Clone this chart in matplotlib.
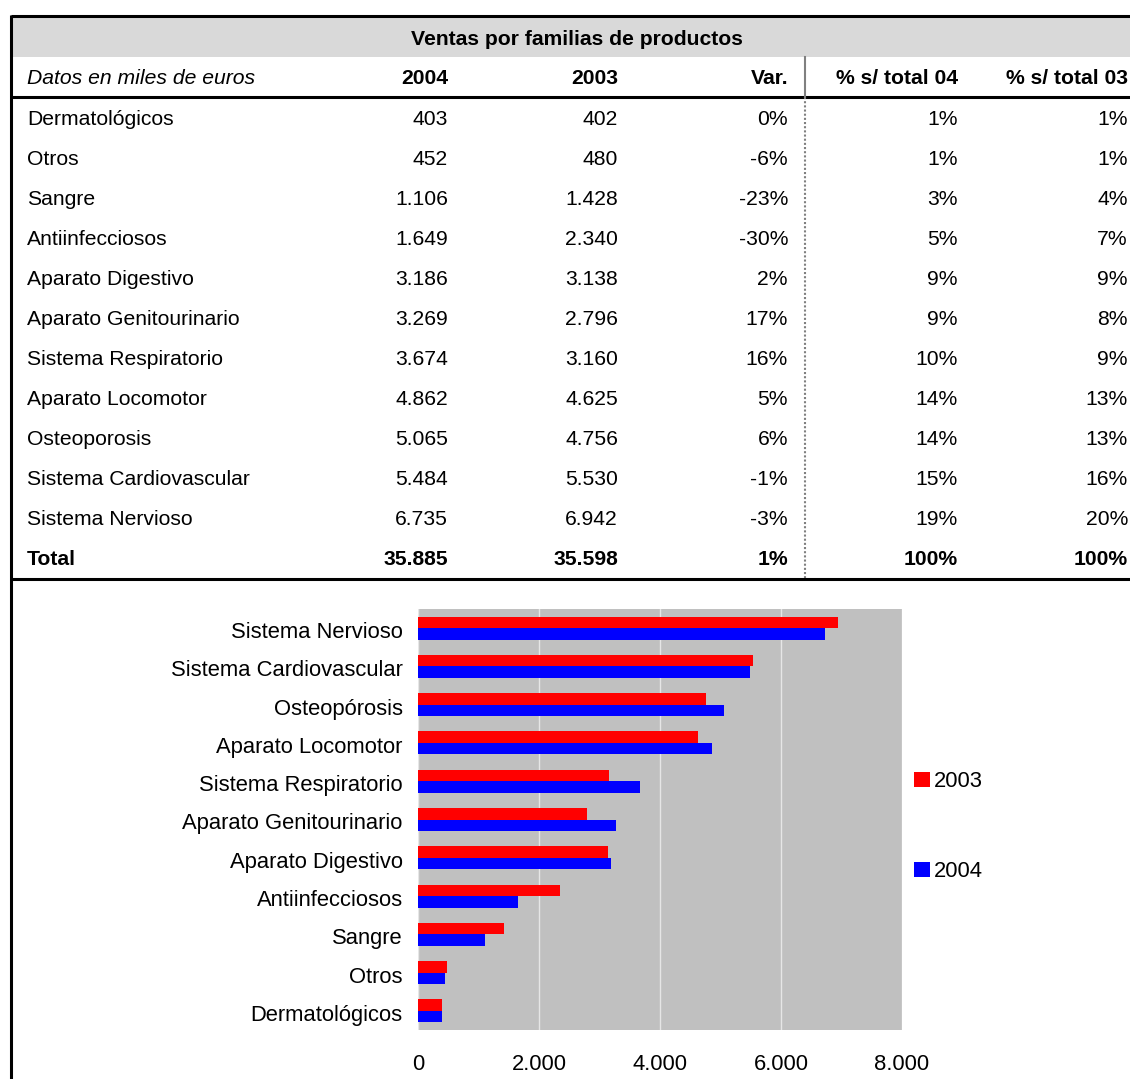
import matplotlib
matplotlib.use("Agg")
import matplotlib.pyplot as plt
from matplotlib.patches import Rectangle
import matplotlib.transforms as mtransforms
import numpy as np

plt.rcParams['font.family'] = ['Liberation Sans', 'DejaVu Sans']

# ---------------- data ----------------
table_title = "Ventas por familias de productos"
header = ["Datos en miles de euros", "2004", "2003", "Var.", "% s/ total 04", "% s/ total 03"]
families = ["Dermatológicos", "Otros", "Sangre", "Antiinfecciosos", "Aparato Digestivo",
            "Aparato Genitourinario", "Sistema Respiratorio", "Aparato Locomotor",
            "Osteoporosis", "Sistema Cardiovascular", "Sistema Nervioso"]
chart_labels = ["Dermatológicos", "Otros", "Sangre", "Antiinfecciosos", "Aparato Digestivo",
                "Aparato Genitourinario", "Sistema Respiratorio", "Aparato Locomotor",
                "Osteopórosis", "Sistema Cardiovascular", "Sistema Nervioso"]
sales_2004 = [403, 452, 1106, 1649, 3186, 3269, 3674, 4862, 5065, 5484, 6735]
sales_2003 = [402, 480, 1428, 2340, 3138, 2796, 3160, 4625, 4756, 5530, 6942]
var_pct = [0, -6, -23, -30, 2, 17, 16, 5, 6, -1, -3]
share_04 = [1, 1, 3, 5, 9, 9, 10, 14, 14, 15, 19]
share_03 = [1, 1, 4, 7, 9, 8, 9, 13, 13, 16, 20]
total_label = "Total"
total_2004 = 35885
total_2003 = 35598
total_var = 1
total_share_04 = 100
total_share_03 = 100
x_ticks = [0, 2000, 4000, 6000, 8000]


def fmt(v):
    return f"{v:,}".replace(",", ".")


W, H = 1130, 1079
fig = plt.figure(figsize=(W / 100, H / 100), dpi=100)
bg = fig.add_axes([0, 0, 1, 1])
bg.set_xlim(0, W)
bg.set_ylim(H, 0)
bg.axis('off')

FS = 15.2

# table frame
bg.add_patch(Rectangle((11, 16), W, 40.5, facecolor='#d9d9d9', edgecolor='none', zorder=0))
bg.plot([11, W], [16, 16], color='black', lw=2.2, solid_capstyle='butt')
bg.plot([11, 11], [15, H], color='black', lw=2.2, solid_capstyle='butt')
bg.plot([11, W], [97, 97], color='black', lw=2.2, solid_capstyle='butt')
bg.plot([11, W], [578.5, 578.5], color='black', lw=2.2, solid_capstyle='butt')
bg.plot([805, 805], [56.5, 97], color='#808080', lw=1.5)
bg.plot([805, 805], [97, 578], color='#808080', lw=1.5, linestyle=(0, (1, 1)))

bg.text(577, 39.5, table_title, ha='center', va='center', fontsize=FS, fontweight='bold')

col_right = [448, 618, 788, 958, 1128]
bg.text(27, 78.5, header[0], ha='left', va='center', fontsize=FS, style='italic')
for x, h in zip(col_right, header[1:]):
    bg.text(x, 78.5, h, ha='right', va='center', fontsize=FS, fontweight='bold')

for i, fam in enumerate(families):
    y = 119.5 + 40 * i
    bg.text(27, y, fam, ha='left', va='center', fontsize=FS)
    vals = [fmt(sales_2004[i]), fmt(sales_2003[i]), f"{var_pct[i]}%",
            f"{share_04[i]}%", f"{share_03[i]}%"]
    for x, v in zip(col_right, vals):
        bg.text(x, y, v, ha='right', va='center', fontsize=FS)

y = 119.5 + 40 * len(families)
bg.text(27, y, total_label, ha='left', va='center', fontsize=FS, fontweight='bold')
tvals = [fmt(total_2004), fmt(total_2003), f"{total_var}%", f"{total_share_04}%", f"{total_share_03}%"]
for x, v in zip(col_right, tvals):
    bg.text(x, y, v, ha='right', va='center', fontsize=FS, fontweight='bold')

# ---------------- bar chart ----------------
px0, px1, py0, py1 = 418, 902, 609, 1030
ax = fig.add_axes([px0 / W, 1 - py1 / H, (px1 - px0) / W, (py1 - py0) / H])
ax.set_facecolor('#c0c0c0')
pos = np.arange(len(chart_labels))
bh = 0.3
ax.barh(pos + bh / 2, sales_2003, height=bh, color='#ff0000', label='2003', zorder=3)
ax.barh(pos - bh / 2, sales_2004, height=bh, color='#0000ff', label='2004', zorder=3)
ax.set_xlim(0, 8000)
ax.set_ylim(-0.5, len(chart_labels) - 0.5)
ax.set_xticks(x_ticks)
ax.set_xticklabels([fmt(t) for t in x_ticks], fontsize=15.8)
ax.set_yticks(pos)
ax.set_yticklabels(chart_labels, fontsize=15.8)
ax.tick_params(axis='both', length=0)
ax.tick_params(axis='y', pad=11)
ax.tick_params(axis='x', pad=17)
shift = mtransforms.ScaledTranslation(0, -2 / 100, fig.dpi_scale_trans)
for t in ax.get_yticklabels():
    t.set_transform(t.get_transform() + shift)
ax.grid(axis='x', color='#e6e6e6', lw=1, zorder=1)
for s in ax.spines.values():
    s.set_visible(False)

leg = fig.legend(loc='upper left', bbox_to_anchor=(914 / W, 1 - 771 / H),
                 frameon=False, fontsize=15.8, handlelength=0.72, handleheight=0.72,
                 handletextpad=0.18, labelspacing=3.15, borderpad=0, borderaxespad=0)

fig.savefig('out.png', dpi=100)
